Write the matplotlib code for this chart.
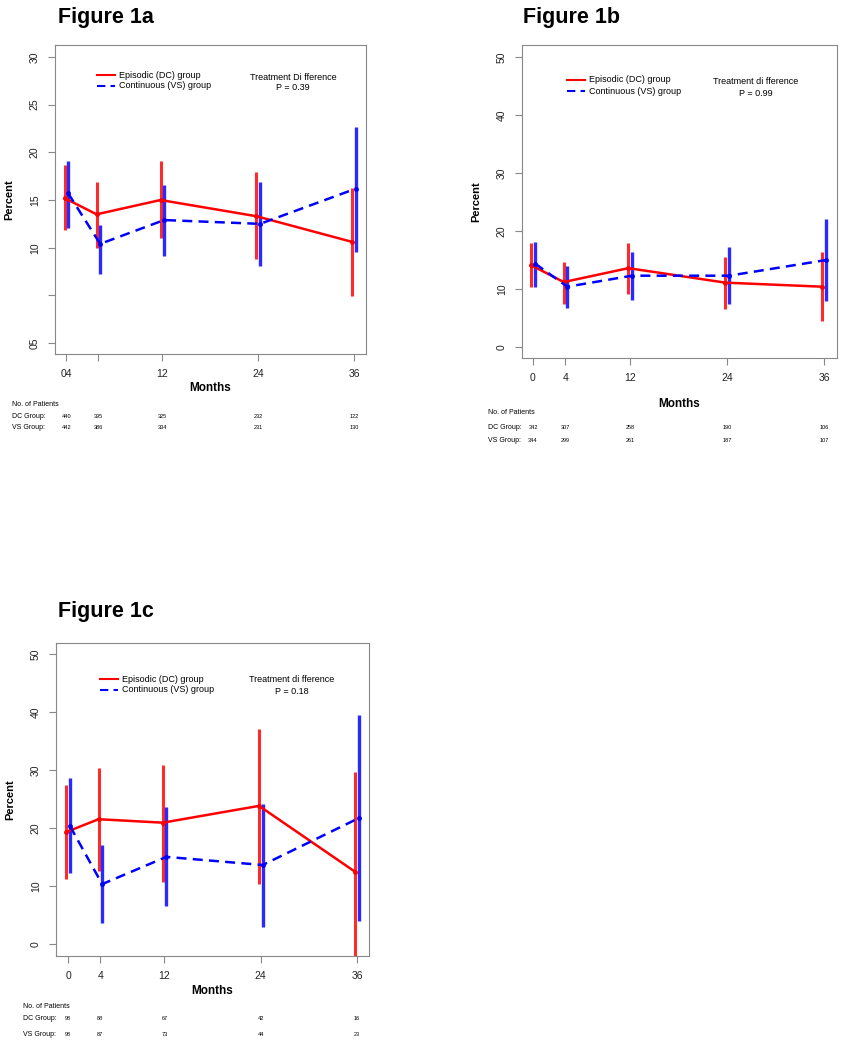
import numpy as np
import matplotlib
matplotlib.use('Agg')
import matplotlib.pyplot as plt

plt.rcParams['font.family'] = ['Liberation Sans', 'DejaVu Sans']

months = [0, 4, 12, 24, 36]

# Figure 1a
a_dc = [15.2, 13.5, 15.0, 13.3, 10.6]
a_dc_lo = [11.9, 10.0, 11.0, 8.8, 4.9]
a_dc_hi = [18.7, 16.9, 19.1, 17.9, 16.3]
a_vs = [15.7, 10.4, 12.9, 12.5, 16.2]
a_vs_lo = [12.1, 7.2, 9.1, 8.1, 9.5]
a_vs_hi = [19.1, 12.4, 16.6, 16.9, 22.7]
a_n_dc = [440, 395, 325, 232, 122]
a_n_vs = [442, 386, 334, 231, 130]
a_yticks = [0, 5, 10, 15, 20, 25, 30]
a_ylabels = ['05', '', '10', '15', '20', '25', '30']
a_xlabels = ['04', '', '12', '24', '36']

# Figure 1b
b_dc = [14.1, 11.2, 13.6, 11.1, 10.4]
b_dc_lo = [10.3, 7.5, 9.2, 6.5, 4.5]
b_dc_hi = [17.9, 14.7, 17.9, 15.6, 16.4]
b_vs = [14.4, 10.4, 12.3, 12.3, 15.0]
b_vs_lo = [10.4, 6.8, 8.1, 7.5, 7.9]
b_vs_hi = [18.1, 14.0, 16.4, 17.2, 22.1]
b_n_dc = [342, 307, 258, 190, 106]
b_n_vs = [344, 299, 261, 187, 107]

# Figure 1c
c_dc = [19.3, 21.5, 20.9, 23.8, 12.4]
c_dc_lo = [11.2, 12.6, 10.7, 10.3, -3.0]
c_dc_hi = [27.4, 30.3, 30.9, 37.1, 29.7]
c_vs = [20.3, 10.3, 15.0, 13.6, 21.7]
c_vs_lo = [12.2, 3.6, 6.6, 2.9, 4.0]
c_vs_hi = [28.6, 17.1, 23.6, 24.1, 39.5]
c_n_dc = [98, 88, 67, 42, 16]
c_n_vs = [98, 87, 73, 44, 23]

xticks_std = ['0', '4', '12', '24', '36']
W, H = 844, 1050
fig = plt.figure(figsize=(W / 100, H / 100), dpi=100)


def fx(px):
    return px / W


def fy(py):
    return 1 - py / H


def panel(box, xlim, ylim, yticks, ylabels, xlabels, dc, dc_lo, dc_hi, vs, vs_lo, vs_hi,
          n_dc, n_vs, title, title_xy, leg_xy, treat, pval, treat_xy, months_y,
          table_x, table_y):
    l, t, r, b = box
    ax = fig.add_axes([fx(l), fy(b), fx(r - l), (b - t) / H])
    x = np.array(months, dtype=float)
    xr = x - 0.2
    xb = x + 0.25
    ax.vlines(xr, dc_lo, dc_hi, color='#ff2a2a', lw=2.2)
    ax.vlines(xb, vs_lo, vs_hi, color='#2a2aff', lw=2.4)
    ax.plot(xr, dc, color='red', lw=1.8, marker='o', ms=2.5)
    ax.plot(xb, vs, color='blue', lw=1.8, ls=(0, (4, 2.5)), marker='o', ms=2.5)
    ax.set_xlim(xlim)
    ax.set_ylim(ylim)
    ax.set_xticks(months)
    ax.set_xticklabels(xlabels, fontsize=7.5, color='#222222')
    ax.set_yticks(yticks)
    ax.set_yticklabels(ylabels, fontsize=7.5, rotation=90, va='center', color='#222222')
    for s in ax.spines.values():
        s.set_color('#888888')
    ax.tick_params(color='#888888', length=5, width=0.8, pad=6)
    ax.set_ylabel('Percent', fontsize=8, fontweight='bold', labelpad=11)

    fig.text(fx(title_xy[0]), fy(title_xy[1]), title, fontsize=15.5, fontweight='bold', va='center')
    fig.text(fx(l + (r - l) / 2), fy(months_y), 'Months', fontsize=8.5,
             fontweight='bold', ha='center', va='center')

    lx, ly = leg_xy
    fig.add_artist(plt.Line2D([fx(lx), fx(lx + 18)], [fy(ly), fy(ly)], color='red', lw=1.5))
    fig.add_artist(plt.Line2D([fx(lx), fx(lx + 18)], [fy(ly + 11), fy(ly + 11)], color='blue',
                              lw=1.5, ls=(0, (4, 2.5))))
    fig.text(fx(lx + 22), fy(ly), 'Episodic (DC) group', fontsize=6.5, va='center')
    fig.text(fx(lx + 22), fy(ly + 11), 'Continuous (VS) group', fontsize=6.5, va='center')
    fig.text(fx(treat_xy[0]), fy(treat_xy[1]), treat, fontsize=6.5, ha='center', va='center')
    fig.text(fx(treat_xy[0]), fy(treat_xy[1] + 11), 'P = ' + pval, fontsize=6.5, ha='center',
             va='center')

    # patient numbers under the axis
    fig.text(fx(table_x), fy(table_y[0]), 'No. of Patients', fontsize=5, va='center')
    fig.text(fx(table_x), fy(table_y[1]), 'DC Group:', fontsize=5, va='center')
    fig.text(fx(table_x), fy(table_y[2]), 'VS Group:', fontsize=5, va='center')
    px_per = (r - l) / (xlim[1] - xlim[0])
    for m, nd, nv in zip(months, n_dc, n_vs):
        xp = l + (m - xlim[0]) * px_per
        fig.text(fx(xp), fy(table_y[1]), str(nd), fontsize=4, ha='center', va='center')
        fig.text(fx(xp), fy(table_y[2]), str(nv), fontsize=4, ha='center', va='center')
    return ax


panel((55, 45, 366, 354), (-1.4, 37.5), (-1.15, 31.26), a_yticks, a_ylabels, a_xlabels,
      a_dc, a_dc_lo, a_dc_hi, a_vs, a_vs_lo, a_vs_hi, a_n_dc, a_n_vs,
      'Figure 1a', (58, 18), (97, 75), 'Treatment Di fference', '0.39', (293, 77), 388,
      12, (405, 416, 427))

panel((522, 45, 837, 358), (-1.36, 37.6), (-1.9, 52.1), [0, 10, 20, 30, 40, 50],
      ['0', '10', '20', '30', '40', '50'], xticks_std,
      b_dc, b_dc_lo, b_dc_hi, b_vs, b_vs_lo, b_vs_hi, b_n_dc, b_n_vs,
      'Figure 1b', (523, 18), (567, 80), 'Treatment di fference', '0.99', (756, 82), 404,
      488, (412, 427, 441))

panel((56, 643, 369, 956), (-1.5, 37.5), (-2.1, 51.9), [0, 10, 20, 30, 40, 50],
      ['0', '10', '20', '30', '40', '50'], xticks_std,
      c_dc, c_dc_lo, c_dc_hi, c_vs, c_vs_lo, c_vs_hi, c_n_dc, c_n_vs,
      'Figure 1c', (58, 611), (100, 679), 'Treatment di fference', '0.18', (292, 680), 991,
      23, (1007, 1019, 1034))

fig.savefig('out.png', dpi=100)
